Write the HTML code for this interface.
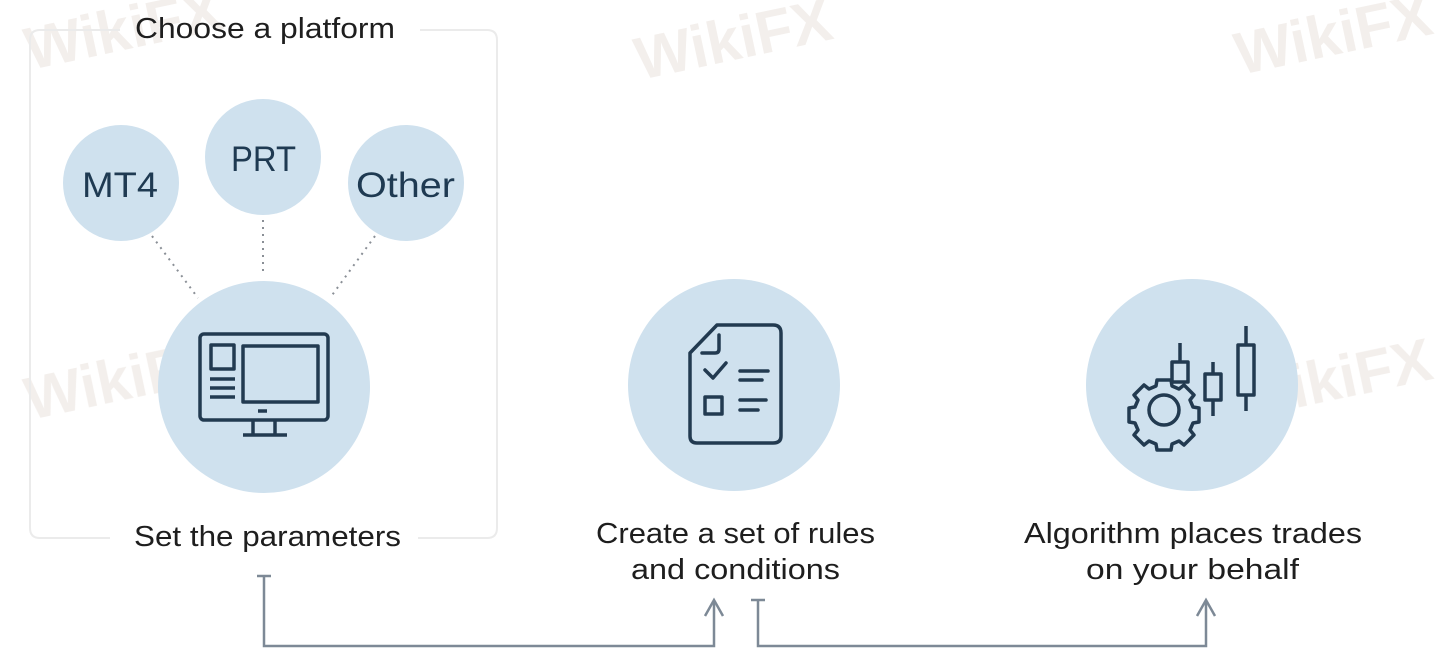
<!DOCTYPE html>
<html><head><meta charset="utf-8"><style>
html,body{margin:0;padding:0;background:#fff;}
svg{display:block;}
text{font-family:"Liberation Sans",sans-serif;}
</style></head><body>
<svg width="1437" height="669" viewBox="0 0 1437 669" xmlns="http://www.w3.org/2000/svg">
<rect width="1437" height="669" fill="#fff"/>
<!-- watermarks -->
<g fill="#eee8e4" font-weight="bold" font-size="60" opacity="0.7">
<text x="30" y="70" transform="rotate(-12 30 70)">WikiFX</text>
<text x="640" y="80" transform="rotate(-12 640 80)">WikiFX</text>
<text x="1240" y="75" transform="rotate(-12 1240 75)">WikiFX</text>
<text x="30" y="420" transform="rotate(-12 30 420)">WikiFX</text>
<text x="640" y="420" transform="rotate(-12 640 420)">WikiFX</text>
<text x="1240" y="420" transform="rotate(-12 1240 420)">WikiFX</text>
</g>
<!-- box -->
<path d="M120 30 H40 Q30 30 30 40 V528 Q30 538 40 538 H110 M420 30 H487 Q497 30 497 40 V528 Q497 538 487 538 H418" fill="none" stroke="#ebebeb" stroke-width="2"/>
<text x="135" y="38" textLength="260" lengthAdjust="spacingAndGlyphs" font-size="29" fill="#1e1e1e">Choose a platform</text>
<!-- dotted -->
<g stroke="#8a8f96" stroke-width="2" stroke-dasharray="2 5">
<line x1="152" y1="236" x2="198" y2="298"/>
<line x1="263" y1="220" x2="263" y2="275"/>
<line x1="375" y1="236" x2="330" y2="298"/>
</g>
<g fill="#cfe1ee">
<circle cx="121" cy="183" r="58"/>
<circle cx="263" cy="157" r="58"/>
<circle cx="406" cy="183" r="58"/>
<circle cx="264" cy="387" r="106"/>
<circle cx="734" cy="385" r="106"/>
<circle cx="1192" cy="385" r="106"/>
</g>
<g font-size="35" fill="#1f3a52">
<text x="82" y="197" textLength="76" lengthAdjust="spacingAndGlyphs">MT4</text>
<text x="231" y="171" textLength="65" lengthAdjust="spacingAndGlyphs">PRT</text>
<text x="356" y="197" textLength="99" lengthAdjust="spacingAndGlyphs">Other</text>
</g>
<!-- monitor icon -->
<g fill="none" stroke="#223a50" stroke-width="3.5" stroke-linejoin="round">
<rect x="200" y="334" width="128" height="86" rx="4"/>
<rect x="211" y="345" width="23" height="24"/>
<rect x="243" y="346" width="75" height="56"/>
<line x1="210" y1="379" x2="235" y2="379"/><line x1="210" y1="388" x2="235" y2="388"/><line x1="210" y1="397" x2="235" y2="397"/>
<line x1="258" y1="411" x2="267" y2="411"/>
<line x1="253" y1="420" x2="253" y2="434"/><line x1="275" y1="420" x2="275" y2="434"/>
<line x1="243" y1="435" x2="287" y2="435"/>
</g>
<!-- document icon -->
<g fill="none" stroke="#223a50" stroke-width="3.5" stroke-linejoin="round" stroke-linecap="round">
<path d="M717 325 H773 Q781 325 781 333 V436 Q781 443 773 443 H697 Q690 443 690 436 V353 Z"/>
<path d="M719 335 V349 Q719 353 715 353 H702"/>
<path d="M705 370 L713 378 L726 363"/>
<line x1="740" y1="371" x2="768" y2="371"/><line x1="740" y1="380" x2="762" y2="380"/>
<rect x="705" y="397" width="17" height="17"/>
<line x1="740" y1="400" x2="766" y2="400"/><line x1="740" y1="410" x2="758" y2="410"/>
</g>
<!-- gear/candles icon -->
<g fill="none" stroke="#223a50" stroke-width="3.5" stroke-linejoin="round">
<line x1="1180" y1="343" x2="1180" y2="362"/><rect x="1172" y="362" width="16" height="20"/>
<line x1="1213" y1="362" x2="1213" y2="374"/><rect x="1205" y="374" width="16" height="26"/><line x1="1213" y1="400" x2="1213" y2="416"/>
<line x1="1246" y1="326" x2="1246" y2="345"/><rect x="1238" y="345" width="16" height="50"/><line x1="1246" y1="395" x2="1246" y2="411"/>
<circle cx="1164" cy="410" r="15"/>
<path d="M1157 380 L1171 380 L1172 386 L1179 389 L1184 385 L1194 395 L1190 400 L1193 407 L1199 408 L1199 422 L1193 423 L1190 430 L1194 435 L1184 445 L1179 441 L1172 444 L1171 450 L1157 450 L1156 444 L1149 441 L1144 445 L1134 435 L1138 430 L1135 423 L1129 422 L1129 408 L1135 407 L1138 400 L1134 395 L1144 385 L1149 389 L1156 386 Z"/>
</g>
<!-- labels -->
<g font-size="29" fill="#1e1e1e" lengthAdjust="spacingAndGlyphs">
<text x="134" y="546" textLength="267" lengthAdjust="spacingAndGlyphs">Set the parameters</text>
<text x="596" y="543" textLength="279" lengthAdjust="spacingAndGlyphs">Create a set of rules</text>
<text x="631" y="579" textLength="209" lengthAdjust="spacingAndGlyphs">and conditions</text>
<text x="1024" y="543" textLength="338" lengthAdjust="spacingAndGlyphs">Algorithm places trades</text>
<text x="1086" y="579" textLength="213" lengthAdjust="spacingAndGlyphs">on your behalf</text>
</g>
<!-- connectors -->
<g fill="none" stroke="#7d8996" stroke-width="2.5">
<path d="M257 576 H271 M264 576 V646 H714 V600"/>
<path d="M705 616 L714 600 L723 616"/>
<path d="M751 600 H765 M758 600 V646 H1206 V600"/>
<path d="M1197 616 L1206 600 L1215 616"/>
</g>
</svg>
</body></html>
